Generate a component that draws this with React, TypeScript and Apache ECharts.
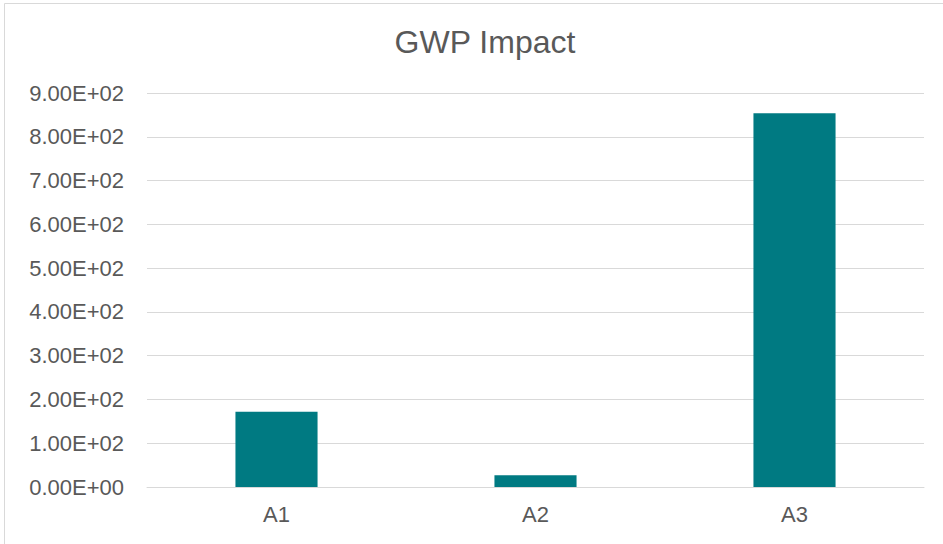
import React, { useEffect, useRef } from "react";
import * as echarts from "echarts";

const categories = ["A1", "A2", "A3"];
const values = [172, 27, 854];
const yTicks = { min: 0, max: 900, interval: 100 };
const titleText = "GWP Impact";

function sci(v: number): string {
  if (v === 0) return "0.00E+00";
  const exp = Math.floor(Math.log10(Math.abs(v)));
  const mant = v / Math.pow(10, exp);
  const sign = exp >= 0 ? "+" : "-";
  const e = Math.abs(exp).toString().padStart(2, "0");
  return mant.toFixed(2) + "E" + sign + e;
}

export default function App() {
  const ref = useRef<HTMLDivElement>(null);
  useEffect(() => {
    const chart = echarts.init(ref.current!, null, { renderer: "svg" });
    const font = "'Liberation Sans', Arial, sans-serif";
    chart.setOption({
      animation: false,
      backgroundColor: "#ffffff",
      title: {
        text: titleText,
        left: 480,
        top: 21,
        textAlign: "center",
        textStyle: { fontFamily: font, fontSize: 32, fontWeight: "normal", color: "#595959" },
      },
      graphic: [
        {
          type: "rect",
          shape: { x: 4.5, y: 3.5, width: 1000, height: 1000 },
          style: { fill: "none", stroke: "#D9D9D9", lineWidth: 1 },
          silent: true,
        },
      ],
      grid: { left: 147, right: 19, top: 93, bottom: 57, containLabel: false },
      xAxis: {
        type: "category",
        data: categories,
        axisLine: { show: true, lineStyle: { color: "#D9D9D9", width: 1 } },
        axisTick: { show: false },
        axisLabel: { fontFamily: font, fontSize: 22, color: "#595959", margin: 16 },
      },
      yAxis: {
        type: "value",
        min: yTicks.min,
        max: yTicks.max,
        interval: yTicks.interval,
        axisLine: { show: false },
        axisTick: { show: false },
        splitLine: { lineStyle: { color: "#D9D9D9", width: 1 } },
        axisLabel: {
          fontFamily: font,
          fontSize: 22,
          color: "#595959",
          margin: 23,
          formatter: (v: number) => sci(v),
        },
      },
      series: [
        {
          type: "bar",
          data: values,
          barWidth: "31.7%",
          itemStyle: { color: "#007A82" },
        },
      ],
    });
    return () => chart.dispose();
  }, []);
  return (
    <div
      ref={ref}
      style={{ position: "absolute", left: 0, top: 0, width: 943, height: 544 }}
    />
  );
}
